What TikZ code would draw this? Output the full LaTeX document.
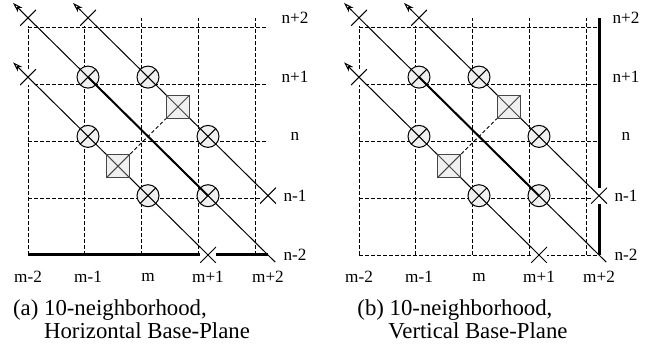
\documentclass[tikz,border=0pt]{standalone}
\usepackage{fontspec}
\setmainfont{Liberation Serif}
\usetikzlibrary{arrows.meta}

\tikzset{
  mitx/.style={path picture={
      \draw[line width=0.5pt] (path picture bounding box.south west) -- (path picture bounding box.north east)
                              (path picture bounding box.north west) -- (path picture bounding box.south east);}},
  gitter/.style={line width=0.45pt, dash pattern=on 1.8pt off 1.2pt},
  strahl/.style={line width=0.5pt, -{Stealth[length=5pt,width=3.2pt,inset=1.5pt,open,line width=0.5pt]}},
  basis/.style={line width=1.5pt},
  kreuz/.style={rectangle, fill=white, minimum size=8pt, inner sep=0pt, mitx},
  kreis/.style={circle, draw, fill=gray!12, line width=0.5pt, minimum size=11pt, inner sep=0pt, mitx},
  quadrat/.style={rectangle, draw=gray!55!black, fill=gray!12, line width=0.7pt, minimum size=11.5pt, inner sep=0pt, mitx},
  achse/.style={font=\fontsize{8.6}{10}\selectfont, inner sep=0pt},
  titel/.style={font=\fontsize{11.4}{11.5}\selectfont, align=left, anchor=north, inner sep=0pt}
}

\begin{document}
\begin{tikzpicture}[x=30pt, y=29.65pt]

  \useasboundingbox (-0.4667,-1.5514) rectangle (10.6,4.3002);

  \foreach \p/\dx/\von/\bis/\cap in {
      a/0/sw/se/{(a) 10-neighborhood,\\\hphantom{(a) }Horizontal Base-Plane},
      b/5.5167/se/ne/{(b) 10-neighborhood,\\\hphantom{(a) }Vertical Base-Plane}} {
  \begin{scope}[shift={(\dx,0)}]

    % --- Gitter ---
    \draw[gitter] (0,0) grid (4,4);
    \coordinate (\p-sw) at (0,0);
    \coordinate (\p-se) at (4,0);
    \coordinate (\p-ne) at (4,4);

    % --- Basisebene ---
    \draw[basis] (\p-\von) -- (\p-\bis);

    % --- Diagonalen ---
    \coordinate (\p-A0) at (4.12,-0.12);  \coordinate (\p-A1) at (-0.25,4.25);
    \coordinate (\p-B0) at (4.12,0.88);   \coordinate (\p-B1) at (0.75,4.25);
    \coordinate (\p-C0) at (3.12,-0.12);  \coordinate (\p-C1) at (-0.25,3.25);
    \draw[strahl] (\p-A0) -- (\p-A1);
    \draw[strahl] (\p-B0) -- (\p-B1);
    \draw[strahl] (\p-C0) -- (\p-C1);

    % --- Nachbarn (Kreise) ---
    \foreach \x/\y [count=\i] in {1/3, 2/3, 1/2, 3/2, 2/1, 3/1}
      \node[kreis] (\p-k\i) at (\x,\y) {};

    % --- Zwischenpunkte (Quadrate) ---
    \node[quadrat] (\p-q1) at (1.5,1.5) {};
    \node[quadrat] (\p-q2) at (2.5,2.5) {};
    \draw[gitter] (\p-q1) -- (\p-q2);

    % --- Endpunkte (Kreuze) ---
    \foreach \x/\y [count=\i] in {0/4, 1/4, 0/3, 4/1, 3/0}
      \node[kreuz] (\p-x\i) at (\x,\y) {};

    % --- Mittelstueck ---
    \draw[line width=1pt] (\p-k1.center) -- (\p-k6.center);

    % --- Beschriftung ---
    \foreach \t [count=\i from 0] in {m-2, m-1, m, m+1, m+2}
      \node[achse] (\p-m\i) at (\i,-0.371) {\t};
    \foreach \t [count=\i from 0] in {n-2, n-1, n, n+1, n+2}
      \node[achse] (\p-n\i) at (4.45,\i) {\t};
    \node[titel] (\p-titel) at (1.725,-0.75) {\cap};

  \end{scope}
  }

\end{tikzpicture}
\end{document}
